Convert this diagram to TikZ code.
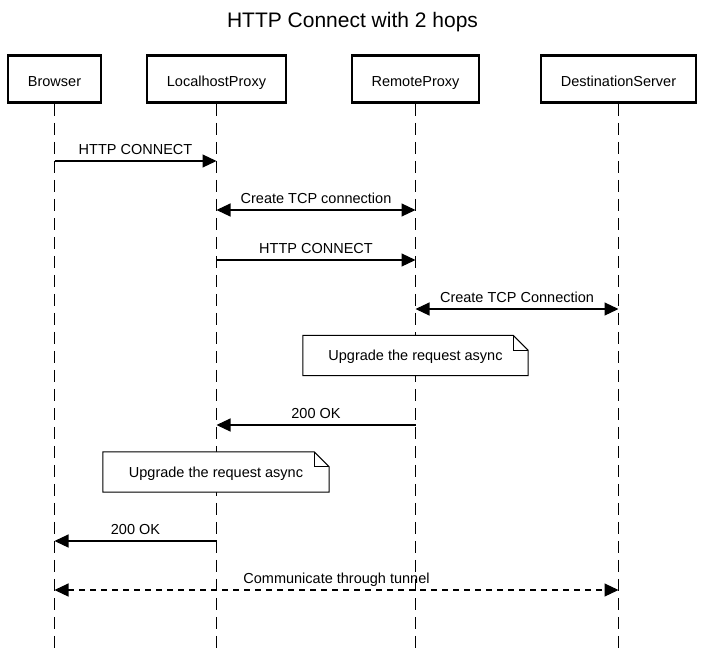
\documentclass[tikz,border=0pt]{standalone}
\usepackage{fontspec}
\setmainfont{Liberation Sans}
\usetikzlibrary{arrows.meta,calc}
\begin{document}
\begin{tikzpicture}[x=1pt,y=-1pt,
  actor/.style={draw,line width=2.5pt,minimum height=47pt,inner sep=0pt,
    font=\fontsize{14.5}{17}\selectfont,text height=14pt,text depth=0pt},
  lifeline/.style={line width=1.1pt,dash pattern=on 12pt off 7pt},
  msg/.style={line width=1.1pt,-{Triangle[length=14pt,width=13pt]}},
  bimsg/.style={line width=1.1pt,{Triangle[length=14pt,width=13pt]}-{Triangle[length=14pt,width=13pt]}},
  dmsg/.style={bimsg,dash pattern=on 6pt off 5pt},
  lbl/.style={font=\fontsize{14.5}{17}\selectfont,anchor=base,inner sep=0pt},
  notetext/.style={font=\fontsize{14.5}{17}\selectfont,inner sep=0pt,minimum height=40pt,text height=10.4pt,text depth=0pt},
  notebox/.style={draw,fill=white,line width=1pt}
]
\useasboundingbox (0,0) rectangle (704,651);
\node[font=\fontsize{21}{25}\selectfont,anchor=base,inner sep=0pt] (title) at (352.5,27.5) {HTTP Connect with 2 hops};

\node[actor,minimum width=93pt] (b) at (54.5,79) {Browser};
\node[actor,minimum width=139pt] (l) at (216.5,79) {LocalhostProxy};
\node[actor,minimum width=127pt] (r) at (415.5,79) {RemoteProxy};
\node[actor,minimum width=155pt] (d) at (618.5,79) {DestinationServer};

\coordinate (bot) at (0,651);
\draw[lifeline] (b.south) -- (b |- bot);
\draw[lifeline] (l.south) -- (l |- bot);
\draw[lifeline] (r.south) -- (r |- bot);
\draw[lifeline] (d.south) -- (d |- bot);

% messages
\coordinate (m1) at (0,161);
\coordinate (m2) at (0,210);
\coordinate (m3) at (0,260);
\coordinate (m4) at (0,309);
\coordinate (m6) at (0,425);
\coordinate (m8) at (0,541);
\coordinate (m9) at (0,590);

\draw[msg] (b |- m1) -- (l |- m1) node[lbl,pos=0.5,yshift=7pt] (t1) {HTTP CONNECT};
\draw[bimsg] (l |- m2) -- (r |- m2) node[lbl,pos=0.5,yshift=7pt] (t2) {Create TCP connection};
\draw[msg] (l |- m3) -- (r |- m3) node[lbl,pos=0.5,yshift=7pt] (t3) {HTTP CONNECT};
\draw[bimsg] (r |- m4) -- (d |- m4) node[lbl,pos=0.5,yshift=7pt] (t4) {Create TCP Connection};

% note 1
\node[notetext,minimum width=225pt] (n1) at (415.5,355.5) {};
\draw[notebox] (n1.north west) -- ([xshift=-15pt]n1.north east) -- ([yshift=-15pt]n1.north east) -- (n1.south east) -- (n1.south west) -- cycle;
\draw[line width=1pt] ([xshift=-15pt]n1.north east) |- ([yshift=-15pt]n1.north east);
\node[notetext] (n1t) at (n1.center) {Upgrade the request async};

\draw[msg] (r |- m6) -- (l |- m6) node[lbl,pos=0.5,yshift=7pt] (t6) {200 OK};

% note 2
\node[notetext,minimum width=226pt] (n2) at (216,472) {};
\draw[notebox] (n2.north west) -- ([xshift=-15pt]n2.north east) -- ([yshift=-15pt]n2.north east) -- (n2.south east) -- (n2.south west) -- cycle;
\draw[line width=1pt] ([xshift=-15pt]n2.north east) |- ([yshift=-15pt]n2.north east);
\node[notetext] (n2t) at (n2.center) {Upgrade the request async};

\draw[msg] (l |- m8) -- (b |- m8) node[lbl,pos=0.5,yshift=7pt] (t8) {200 OK};
\draw[dmsg] (b |- m9) -- (d |- m9) node[lbl,pos=0.5,yshift=7pt] (t9) {Communicate through tunnel};
\end{tikzpicture}
\end{document}
